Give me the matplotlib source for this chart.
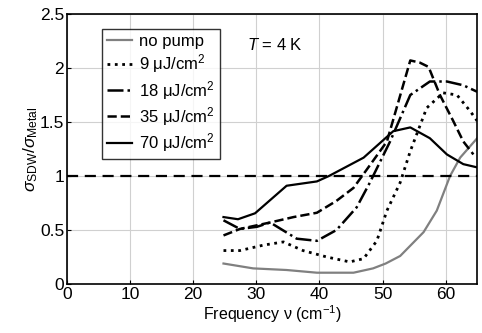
import matplotlib
matplotlib.use("Agg")
import matplotlib.pyplot as plt

plt.rcParams["font.family"] = ["Liberation Sans", "DejaVu Sans"]
plt.rcParams["mathtext.fontset"] = "custom"
plt.rcParams["mathtext.rm"] = "Liberation Sans"
plt.rcParams["mathtext.it"] = "Liberation Sans:italic"

nu_none = [24.8, 29.5, 34.8, 39.6, 45.4, 48.5, 50.5, 52.8, 56.5, 58.6, 60.7, 62.3, 65.0]
s_none = [0.19, 0.145, 0.13, 0.105, 0.105, 0.145, 0.19, 0.26, 0.48, 0.68, 1.0, 1.17, 1.35]

nu_9 = [24.8, 27.4, 31.1, 34.3, 37.4, 41.2, 44.8, 47.0, 49.1, 50.7, 52.8, 54.4, 57.0, 59.6, 61.8, 63.9, 65.0]
s_9 = [0.31, 0.31, 0.36, 0.39, 0.31, 0.25, 0.205, 0.235, 0.40, 0.68, 0.94, 1.23, 1.63, 1.77, 1.75, 1.6, 1.51]

nu_18 = [24.8, 27.4, 30.1, 32.2, 36.4, 39.6, 42.7, 45.9, 48.0, 51.2, 54.4, 57.5, 60.2, 62.8, 65.0]
s_18 = [0.59, 0.51, 0.53, 0.57, 0.42, 0.40, 0.50, 0.71, 0.94, 1.32, 1.75, 1.875, 1.875, 1.84, 1.78]

nu_35 = [24.8, 27.4, 32.2, 35.9, 39.6, 42.7, 45.4, 48.0, 50.7, 54.4, 55.9, 57.3, 59.1, 61.2, 62.8, 64.4]
s_35 = [0.45, 0.51, 0.57, 0.62, 0.66, 0.77, 0.89, 1.10, 1.32, 2.07, 2.05, 2.01, 1.75, 1.51, 1.32, 1.2]

nu_70 = [24.8, 27.1, 29.8, 34.8, 39.6, 41.5, 47.0, 51.7, 54.4, 57.5, 60.2, 62.8, 65.0]
s_70 = [0.62, 0.60, 0.655, 0.91, 0.95, 1.0, 1.17, 1.415, 1.45, 1.35, 1.2, 1.11, 1.08]

fig = plt.figure(figsize=(4.82, 3.33), dpi=100)
ax = fig.add_axes([0.139, 0.147, 0.851, 0.811])

ax.plot(nu_none, s_none, "-", color="#808080", lw=1.6, label="no pump")
ax.plot(nu_9, s_9, ":", color="k", lw=2.0, label="9 μJ/cm$^2$")
ax.plot(nu_18, s_18, "-.", color="k", lw=1.8, label="18 μJ/cm$^2$")
ax.plot(nu_35, s_35, "--", color="k", lw=1.8, label="35 μJ/cm$^2$")
ax.plot(nu_70, s_70, "-", color="k", lw=1.6, label="70 μJ/cm$^2$")
ax.axhline(1.0, color="k", ls="--", lw=1.6, dashes=(5, 3))

ax.set_xlim(0, 65)
ax.set_ylim(0, 2.5)
ax.set_xticks([0, 10, 20, 30, 40, 50, 60])
ax.set_yticks([0, 0.5, 1, 1.5, 2, 2.5])
ax.set_yticklabels(["0", "0.5", "1", "1.5", "2", "2.5"])
ax.tick_params(direction="in", labelsize=12.5, length=3, pad=2)
ax.grid(color="#d0d0d0", lw=0.8)
for s in ax.spines.values():
    s.set_linewidth(1.2)

ax.set_xlabel("Frequency ν (cm$^{-1}$)", fontsize=11.5, labelpad=1)
ax.set_ylabel(r"$\sigma_{\rm SDW}/\sigma_{\rm Metal}$", fontsize=12.5, labelpad=0)
ax.text(28.5, 2.21, r"$T$ = 4 K", fontsize=12, va="center")

leg = ax.legend(loc="upper left", bbox_to_anchor=(0.065, 0.975), fontsize=12,
                frameon=True, fancybox=False, edgecolor="k", handlelength=1.5,
                handletextpad=0.4, labelspacing=0.2, borderpad=0.3)
leg.get_frame().set_linewidth(1.0)

fig.savefig("out.png", dpi=100)
